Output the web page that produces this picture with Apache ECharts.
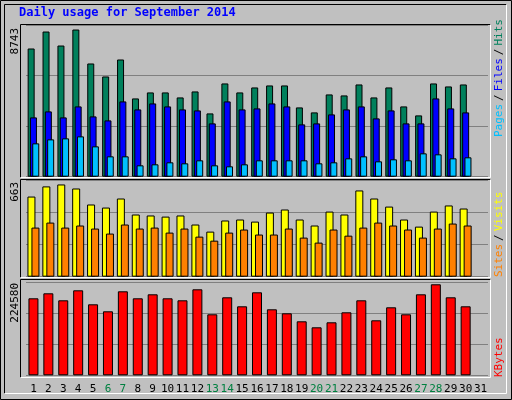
<!DOCTYPE html>
<html><head><meta charset="utf-8">
<script src="https://cdn.jsdelivr.net/npm/echarts@6/dist/echarts.min.js"></script>
<style>html,body{margin:0;padding:0;background:#c0c0c0}#c{width:512px;height:400px}</style>
</head><body><div id="c"></div>
<script>
const days = ['1','2','3','4','5','6','7','8','9','10','11','12','13','14','15','16','17','18','19','20','21','22','23','24','25','26','27','28','29','30','31'];
const weekends = ['6','7','13','14','20','21','27','28'];
const hits = [7616,8624,7793,8743,6726,5955,6963,4650,5006,5006,4709,5065,3760,5540,5006,5302,5421,5421,4116,3820,4887,4828,5480,4709,5302,4175,3642,5540,5362,5480];
const files = [3523,3879,3523,4175,3582,3345,4472,3997,4353,4175,3997,3938,3167,4472,3997,4057,4353,4175,3108,3167,3701,3997,4175,3464,3938,3167,3167,4650,4057,3820];
const pages = [1981,2218,2278,2396,1803,1210,1210,676,735,854,795,973,676,617,735,973,973,973,973,795,854,1091,1210,913,1032,973,1388,1329,1091,1151];
const visits = [576,649,663,634,519,497,562,447,440,432,440,375,324,404,411,396,461,483,411,368,468,447,620,562,504,411,360,468,512,490];
const sites = [353,389,353,368,346,310,375,346,353,317,346,288,259,317,339,303,303,346,281,245,339,295,353,389,368,339,281,346,382,368];
const kbytes = [190021,202360,185085,209763,175214,157939,207295,190021,199892,190021,185085,212231,150536,192488,170278,204827,162875,153004,133261,118454,130793,155471,185085,135729,167810,150536,199892,224580,192488,170278];
const maxLabels = ['8743','663','224580'];

const F = 'DejaVu Sans Mono';
const chart = echarts.init(document.getElementById('c'));
const grids = [
  {left:26, right:24, top:25.2, height:151.5},
  {left:26, right:24, top:180.7, height:96},
  {left:26, right:24, top:282.3, height:93}
];
const xAxes = grids.map((g,i)=>({gridIndex:i,type:'category',data:days,
  axisLine:{show:false},axisTick:{show:false},
  axisLabel:{show:i===2,interval:0,fontFamily:F,fontSize:11,margin:8,
    formatter:v=>weekends.includes(v)?'{w|'+v+'}':v, color:'#000',
    rich:{w:{color:'#008040',fontFamily:F,fontSize:11}}}}));
const yMax=[9000,690,229500];
const yAxes = grids.map((g,i)=>({gridIndex:i,type:'value',min:0,max:yMax[i],interval:yMax[i]/3,
  axisLabel:{show:false},axisLine:{show:false},axisTick:{show:false},
  splitLine:{show:true,lineStyle:{color:'#808080',width:1}}}));
const bs = {borderColor:'#000',borderWidth:1};
function frame(x,y,w,h){return [
  {type:'polyline',shape:{points:[[x,y+h],[x,y],[x+w,y]]},style:{stroke:'#000',lineWidth:1,fill:null},z:-1},
  {type:'polyline',shape:{points:[[x+w,y],[x+w,y+h],[x,y+h]]},style:{stroke:'#fff',lineWidth:1,fill:null},z:-1}
];}
chart.setOption({
  animation:false,
  backgroundColor:'#c0c0c0',
  grid:grids, xAxis:xAxes, yAxis:yAxes,
  series:[
    {type:'bar',xAxisIndex:0,yAxisIndex:0,data:hits,barWidth:7,barGap:'-67%',itemStyle:{color:'#00805c',...bs}},
    {type:'bar',xAxisIndex:0,yAxisIndex:0,data:files,barWidth:7,barGap:'-67%',itemStyle:{color:'#0000ff',...bs}},
    {type:'bar',xAxisIndex:0,yAxisIndex:0,data:pages,barWidth:7,barGap:'-67%',itemStyle:{color:'#00c0ff',...bs}},
    {type:'bar',xAxisIndex:1,yAxisIndex:1,data:visits,barWidth:8,barGap:'-50%',itemStyle:{color:'#ffff00',...bs}},
    {type:'bar',xAxisIndex:1,yAxisIndex:1,data:sites,barWidth:8,barGap:'-50%',itemStyle:{color:'#ff8000',...bs}},
    {type:'bar',xAxisIndex:2,yAxisIndex:2,data:kbytes,barWidth:10,itemStyle:{color:'#ff0000',...bs}}
  ],
  graphic:[
    {type:'rect',shape:{x:0.5,y:0.5,width:511,height:399},style:{fill:null,stroke:'#000',lineWidth:1},z:-2},
    ...frame(4.5,4.5,502,389),
    ...frame(20.5,24.5,470,153),
    ...frame(20.5,179.5,470,98),
    ...frame(20.5,279.5,470,98),
    {type:'text',left:19,top:7,style:{text:'Daily usage for September 2014',fill:'#0000ff',font:'bold 12px "DejaVu Sans Mono"'}},
    {type:'text',x:10,y:28,rotation:Math.PI/2,style:{text:maxLabels[0],fill:'#000',font:'11px "DejaVu Sans Mono"',align:'right',verticalAlign:'top'}},
    {type:'text',x:10,y:182,rotation:Math.PI/2,style:{text:maxLabels[1],fill:'#000',font:'11px "DejaVu Sans Mono"',align:'right',verticalAlign:'top'}},
    {type:'text',x:10,y:283,rotation:Math.PI/2,style:{text:maxLabels[2],fill:'#000',font:'11px "DejaVu Sans Mono"',align:'right',verticalAlign:'top'}},
    {type:'text',x:494,y:137,rotation:Math.PI/2,style:{text:'{p|Pages}{s|/}{f|Files}{s|/}{h|Hits}',font:'11px "DejaVu Sans Mono"',align:'left',verticalAlign:'top',
      rich:{p:{fill:'#00c0ff',font:'11px "DejaVu Sans Mono"'},f:{fill:'#0000ff',font:'11px "DejaVu Sans Mono"'},h:{fill:'#00805c',font:'11px "DejaVu Sans Mono"'},s:{fill:'#000',font:'11px "DejaVu Sans Mono"',padding:[0,3]}}}},
    {type:'text',x:494,y:277,rotation:Math.PI/2,style:{text:'{a|Sites}{s|/}{b|Visits}',font:'11px "DejaVu Sans Mono"',align:'left',verticalAlign:'top',
      rich:{a:{fill:'#ff8000',font:'11px "DejaVu Sans Mono"'},b:{fill:'#ffff00',font:'11px "DejaVu Sans Mono"'},s:{fill:'#000',font:'11px "DejaVu Sans Mono"',padding:[0,3]}}}},
    {type:'text',x:494,y:377,rotation:Math.PI/2,style:{text:'KBytes',fill:'#ff0000',font:'11px "DejaVu Sans Mono"',align:'left',verticalAlign:'top'}}
  ]
});
</script></body></html>
